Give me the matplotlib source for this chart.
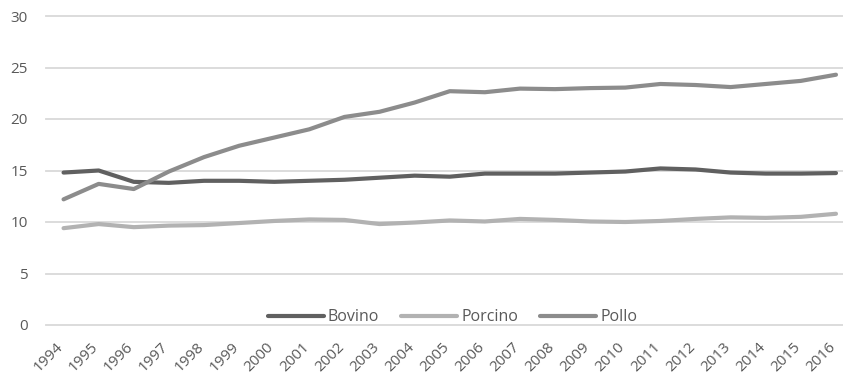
import matplotlib
matplotlib.use("Agg")
import matplotlib.pyplot as plt

years = list(range(1994, 2017))
bovino = [14.8, 15.0, 13.9, 13.8, 14.0, 14.0, 13.9, 14.0, 14.1, 14.3, 14.5, 14.4,
          14.7, 14.7, 14.7, 14.8, 14.9, 15.2, 15.1, 14.8, 14.7, 14.7, 14.75]
porcino = [9.4, 9.8, 9.5, 9.65, 9.7, 9.9, 10.1, 10.25, 10.2, 9.8, 9.95, 10.15,
           10.05, 10.3, 10.2, 10.05, 10.0, 10.1, 10.3, 10.45, 10.4, 10.5, 10.8]
pollo = [12.2, 13.7, 13.2, 14.9, 16.3, 17.4, 18.2, 19.0, 20.2, 20.7, 21.6, 22.7,
         22.6, 22.95, 22.9, 23.0, 23.05, 23.4, 23.3, 23.1, 23.4, 23.7, 24.3]
y_ticks = [0, 5, 10, 15, 20, 25, 30]

text_color = "#595959"
plt.rcParams["font.family"] = ["Open Sans", "DejaVu Sans"]

W, H = 843, 377
fig = plt.figure(figsize=(W / 100, H / 100), dpi=100)
left, right, top, bottom = 46, 843, 16, 325
ax = fig.add_axes([left / W, 1 - bottom / H, (right - left) / W, (bottom - top) / H])

for y in y_ticks:
    ax.axhline(y, color="#d9d9d9", lw=1.3, zorder=0, clip_on=False)

lw = 3.0
ax.plot(years, bovino, color="#606060", lw=lw, solid_capstyle="round", label="Bovino", clip_on=False)
ax.plot(years, porcino, color="#b2b2b2", lw=lw, solid_capstyle="round", label="Porcino", clip_on=False)
ax.plot(years, pollo, color="#8c8c8c", lw=lw, solid_capstyle="round", label="Pollo", clip_on=False)

ax.set_ylim(0, 30)
ax.set_xlim(1993.5, 1994 + (843 - 64) / 35.09)
ax.set_yticks(y_ticks)
ax.set_xticks(years)
ax.set_xticklabels([str(y) for y in years], rotation=45, ha="right", va="baseline",
                   rotation_mode="anchor")
ax.tick_params(axis="both", length=0, labelsize=11, colors=text_color)
ax.tick_params(axis="y", pad=13)
ax.tick_params(axis="x", pad=16)
for s in ax.spines.values():
    s.set_visible(False)

leg = ax.legend(loc="center", bbox_to_anchor=(0.51, 0.025), ncol=3, frameon=False,
                fontsize=11.5, handlelength=3.5, handletextpad=0.25, columnspacing=1.4)
for t in leg.get_texts():
    t.set_color(text_color)

fig.savefig("out.png", dpi=100)
